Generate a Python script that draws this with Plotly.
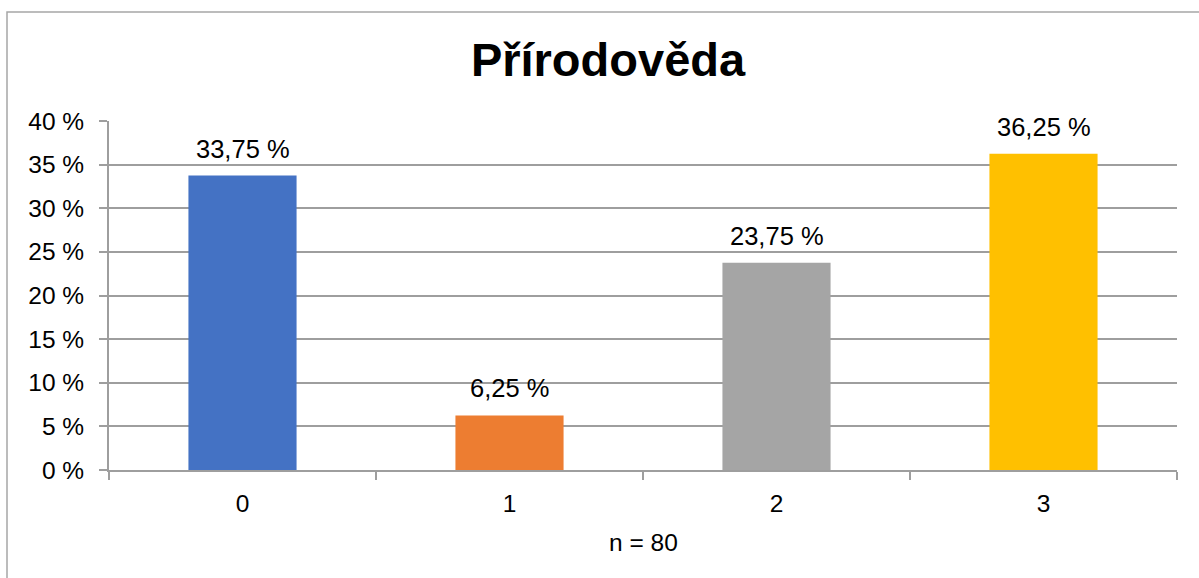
import plotly.graph_objects as go

categories = ["0", "1", "2", "3"]
values = [33.75, 6.25, 23.75, 36.25]
labels = ["33,75 %", "6,25 %", "23,75 %", "36,25 %"]
colors = ["#4472C4", "#ED7D31", "#A5A5A5", "#FFC000"]
y_ticks = [0, 5, 10, 15, 20, 25, 30, 35, 40]
y_tick_labels = [f"{v} %" for v in y_ticks]

FONT = "Liberation Sans, Arial, sans-serif"
W, H = 1199, 578
L, R, T, B = 109, 22, 121, 108
pw, ph = W - L - R, H - T - B

fig = go.Figure(go.Bar(
    x=categories, y=values, marker=dict(color=colors, line=dict(width=0)),
    hoverinfo="x+y",
))

annotations = [
    dict(x=c, y=v, text=t, xref="x", yref="y", showarrow=False,
         yanchor="middle", xanchor="center", yshift=27,
         font=dict(size=25.5, family=FONT, color="#000000"))
    for c, v, t in zip(categories, values, labels)
]
annotations.append(dict(text="n = 80", xref="paper", yref="paper",
                        x=0.5, y=-(542 - 470) / ph, xanchor="center", yanchor="middle",
                        showarrow=False, font=dict(size=24.5, family=FONT, color="#000000")))

fig.update_layout(
    width=W, height=H, margin=dict(l=L, r=R, t=T, b=B),
    paper_bgcolor="white", plot_bgcolor="white",
    bargap=0.595, showlegend=False,
    font=dict(family=FONT, color="#000000"),
    title=dict(text="<b>Přírodověda</b>", x=608 / W, xref="container", xanchor="center",
               y=1 - 60 / H, yref="container", yanchor="middle",
               font=dict(size=47, family=FONT, color="#000000")),
    xaxis=dict(type="category", showline=True, linecolor="#9E9E9E", linewidth=2,
               ticks="outside", tickson="boundaries", ticklen=8, tickcolor="#9E9E9E", tickwidth=2,
               tickfont=dict(size=24.5, family=FONT, color="#000000"), ticklabelstandoff=11,
               showgrid=False, zeroline=False),
    yaxis=dict(range=[0, 40], tickvals=y_ticks, ticktext=y_tick_labels,
               showline=True, linecolor="#9E9E9E", linewidth=2,
               ticks="outside", ticklen=8, tickcolor="#9E9E9E", tickwidth=2,
               gridcolor="#9E9E9E", gridwidth=2, zeroline=False,
               tickfont=dict(size=24.5, family=FONT, color="#000000"), ticklabelstandoff=10),
    annotations=annotations,
    shapes=[dict(type="rect", xref="paper", yref="paper",
                 x0=(7 - L) / pw, x1=1.2, y0=-0.6, y1=1 + (T - 12) / ph,
                 line=dict(color="#A6A6A6", width=1.5), fillcolor="rgba(0,0,0,0)", layer="below")],
)

fig.write_html("out.html", config={"displayModeBar": False},
               post_script="document.body.style.margin='0px';")
